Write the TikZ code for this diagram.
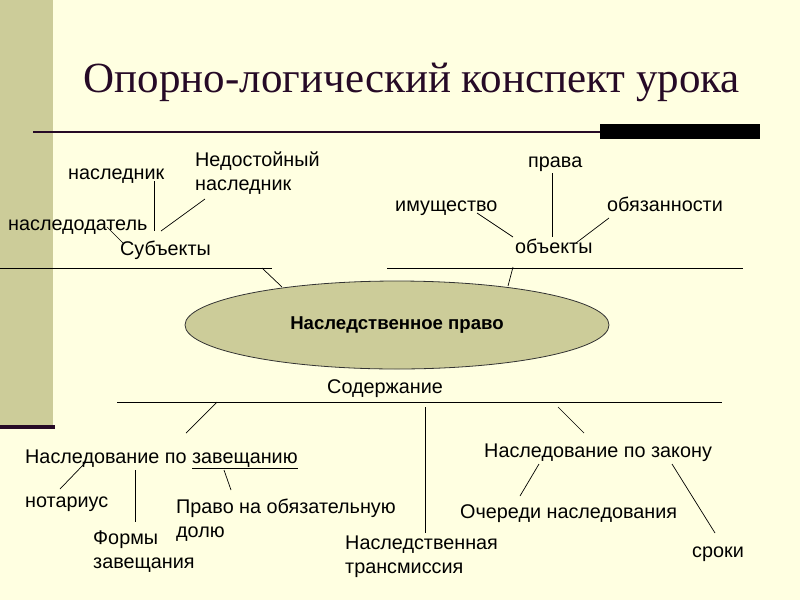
\documentclass[tikz,border=0pt]{standalone}
\usepackage{fontspec}
\setmainfont{Liberation Sans}
\newfontfamily\titlefont{Liberation Serif}
\usepackage{tikz}
\definecolor{paleyellow}{RGB}{255,255,225}
\definecolor{olivegray}{RGB}{204,204,153}
\definecolor{darkplum}{RGB}{38,10,38}
\usetikzlibrary{shapes.geometric}

\begin{document}
\begin{tikzpicture}[x=1pt, y=-1pt,
    lbl/.style={anchor=base west, inner sep=0pt, align=left, font=\fontsize{19.8}{24}\selectfont},
    link/.style={draw=black, line width=0.7pt}]
            % background
            \fill[paleyellow] (0,0) rectangle (800,600);
            \useasboundingbox (0,0) rectangle (800,600);
            \fill[olivegray] (0,0) rectangle (53,425);
            \fill[darkplum] (0,425) rectangle (55,429);

            % Title
            \node[anchor=base, inner sep=0pt, text=darkplum, font=\titlefont\fontsize{43}{46}\selectfont] (title) at (412,92) {Опорно-логический конспект урока};
            \draw[darkplum, line width=2pt] (33,132) -- (760,132);
            \fill[black] (600,124) rectangle (760,139);

            % Subjects
            \node[lbl] (heir) at (68,179) {наследник};
            \node[lbl] (unworthy) at (195,190) {Недостойный\\наследник};
            \node[lbl] (testator) at (8,230) {наследодатель};
            \node[lbl] (subj) at (120,255) {Субъекты};
            \draw[link] ([shift={(86,2)}]heir.base west) -- ([shift={(34,-24)}]subj.base west);
            \draw[link] ([shift={(10,9)}]unworthy.base west) -- ([shift={(41,-24)}]subj.base west);
            \draw[link] ([shift={(99,-3)}]testator.base west) -- ([shift={(3,-12)}]subj.base west);

            % Objects
            \node[lbl] (rights) at (528,167) {права};
            \node[lbl] (property) at (395,211) {имущество};
            \node[lbl] (duties) at (607,211) {обязанности};
            \node[lbl] (obj) at (515,253) {объекты};
            \draw[link] ([shift={(24,6)}]rights.base west) -- ([shift={(37,-16)}]obj.base west);
            \draw[link] ([shift={(82,2)}]property.base west) -- ([shift={(-2,-16)}]obj.base west);
            \draw[link] ([shift={(2,7)}]duties.base west) -- ([shift={(61,-10)}]obj.base west);

            % Centre
            \node[ellipse, draw=black!80, line width=0.8pt, fill=olivegray, minimum width=424pt, minimum height=88pt, inner sep=0pt, font=\bfseries\fontsize{18.6}{20}\selectfont] (law) at (397,325) {Наследственное право};
            \draw[link] ([shift={(-120,13)}]subj.base west) -- ([shift={(152,13)}]subj.base west);
            \draw[link] ([shift={(-128,15)}]obj.base west) -- ([shift={(228,15)}]obj.base west);
            \draw[link] ([shift={(-135,-57)}]law.center) -- ([shift={(-115,-38)}]law.center);
            \draw[link] ([shift={(116,-58)}]law.center) -- ([shift={(111,-39)}]law.center);

            % Content
            \node[lbl] (content) at (327,393) {Содержание};
            \draw[link] ([shift={(-210,9)}]content.base west) -- ([shift={(395,9)}]content.base west);

            % By will
            \node[lbl] (will) at (25,463) {Наследование по \underline{завещанию}};
            \node[lbl] (notary) at (25,507) {нотариус};
            \node[lbl] (forms) at (93,568) {Формы\\завещания};
            \node[lbl] (share) at (176,537) {Право на обязательную\\долю};
            \draw[link] ([shift={(-110,9)}]content.base west) -- ([shift={(161,-30)}]will.base west);
            \draw[link] ([shift={(60,0)}]will.base west) -- ([shift={(35,-18)}]notary.base west);
            \draw[link] ([shift={(110,7)}]will.base west) -- ([shift={(42,-46)}]forms.base west);
            \draw[link] ([shift={(199,7)}]will.base west) -- ([shift={(55,-47)}]share.base west);

            % Transmission
            \node[lbl] (trans) at (345,573) {Наследственная\\трансмиссия};
            \draw[link] ([shift={(98,14)}]content.base west) -- ([shift={(80,-40)}]trans.base west);

            % By law
            \node[lbl] (bylaw) at (484,457) {Наследование по закону};
            \node[lbl] (order) at (460,518) {Очереди наследования};
            \node[lbl] (terms) at (692,557) {сроки};
            \draw[link] ([shift={(231,14)}]content.base west) -- ([shift={(100,-24)}]bylaw.base west);
            \draw[link] ([shift={(55,7)}]bylaw.base west) -- ([shift={(60,-22)}]order.base west);
            \draw[link] ([shift={(188,7)}]bylaw.base west) -- ([shift={(23,-24)}]terms.base west);

        \end{tikzpicture}
\end{document}
